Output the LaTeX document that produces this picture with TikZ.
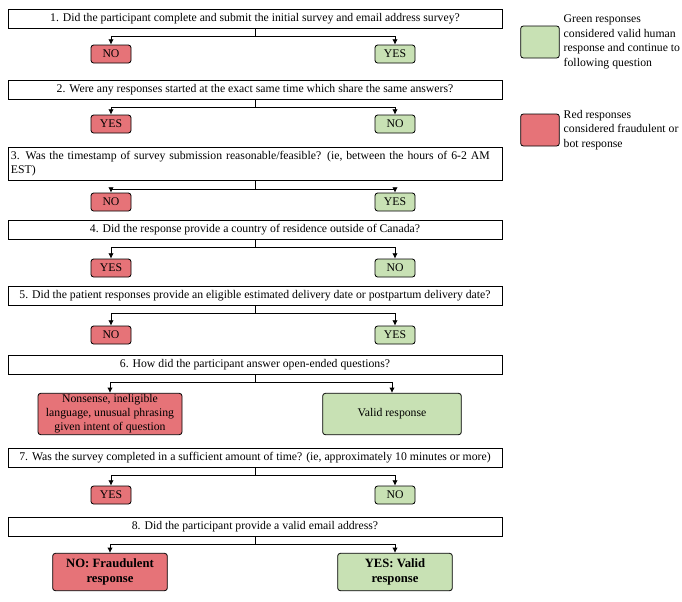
\documentclass[tikz,border=0pt]{standalone}
\usepackage{fontspec}
\setmainfont{Liberation Serif}
\usetikzlibrary{arrows.meta}
\definecolor{redbox}{RGB}{230,115,120}
\definecolor{greenbox}{RGB}{200,225,180}
\tikzset{
    question/.style={draw, semithick, minimum width=370.5pt, minimum height=14pt, inner sep=1pt, align=center, font=\fontsize{8.8}{10.5}\selectfont},
    bad/.style={draw, semithick, rounded corners=2pt, fill=redbox, minimum width=30pt, minimum height=13.5pt, inner sep=1pt, align=center, font=\fontsize{8.8}{10.5}\selectfont},
    good/.style={bad, fill=greenbox},
    branch/.style={semithick, -{Latex[length=4pt,width=4pt]}}
}
\begin{document}
\begin{tikzpicture}[x=0.75pt,y=-0.75pt]
\useasboundingbox (0,0) rectangle (682,601);

\node[question] (q1) at (255,19) {1. Did the participant complete and submit the initial survey and email address survey?};
\node[bad] (n1) at (111,54) {NO};
\node[good] (y1) at (395,54) {YES};

\node[question] (q2) at (255,90) {2. Were any responses started at the exact same time which share the same answers?};
\node[bad] (n2) at (111,124) {YES};
\node[good] (y2) at (395,124) {NO};

\node[question, minimum height=25pt, align=left, text width=366pt] (q3) at (255,164) {3. Was the timestamp of survey submission reasonable/feasible? (ie, between the hours of 6-2 AM\\EST)};
\node[bad] (n3) at (111,202) {NO};
\node[good] (y3) at (395,202) {YES};

\node[question] (q4) at (255,230) {4. Did the response provide a country of residence outside of Canada?};
\node[bad] (n4) at (111,268) {YES};
\node[good] (y4) at (395,268) {NO};

\node[question] (q5) at (255,296) {5. Did the patient responses provide an eligible estimated delivery date or postpartum delivery date?};
\node[bad] (n5) at (111,335) {NO};
\node[good] (y5) at (395,335) {YES};

\node[question] (q6) at (255,365) {6. How did the participant answer open-ended questions?};
\node[bad, minimum width=108pt, minimum height=31pt] (n6) at (110,414) {Nonsense, ineligible\\language, unusual phrasing\\given intent of question};
\node[good, minimum width=104pt, minimum height=31pt] (y6) at (392,414) {Valid response};

\node[question] (q7) at (255,458) {7. Was the survey completed in a sufficient amount of time? (ie, approximately 10 minutes or more)};
\node[bad] (n7) at (111,495) {YES};
\node[good] (y7) at (395,495) {NO};

\node[question] (q8) at (255,527) {8. Did the participant provide a valid email address?};
\node[bad, minimum width=86pt, minimum height=28pt, font=\bfseries\fontsize{9.5}{11}\selectfont] (n8) at (110,572) {NO: Fraudulent\\response};
\node[good, minimum width=86pt, minimum height=28pt, font=\bfseries\fontsize{9.5}{11}\selectfont] (y8) at (395,572) {YES: Valid\\response};

% branches
\foreach \i in {1,...,8}
{
    \draw[semithick] (q\i.south) -- ++(0,8) coordinate (m\i);
    \draw[branch] (m\i) -| (n\i.north);
    \draw[branch] (m\i) -| (y\i.north);
}

% legend
\node[good, minimum width=29pt, minimum height=24pt] (kg) at (540,42) {};
\node[anchor=west, align=left, font=\fontsize{8.8}{11}\selectfont] (tg) at (559,42) {Green responses\\considered valid human\\response and continue to\\following question};
\node[bad, minimum width=29pt, minimum height=24pt] (kr) at (540,130) {};
\node[anchor=west, align=left, font=\fontsize{8.8}{11}\selectfont] (tr) at (559,130) {Red responses\\considered fraudulent or\\bot response};

\end{tikzpicture}
\end{document}
